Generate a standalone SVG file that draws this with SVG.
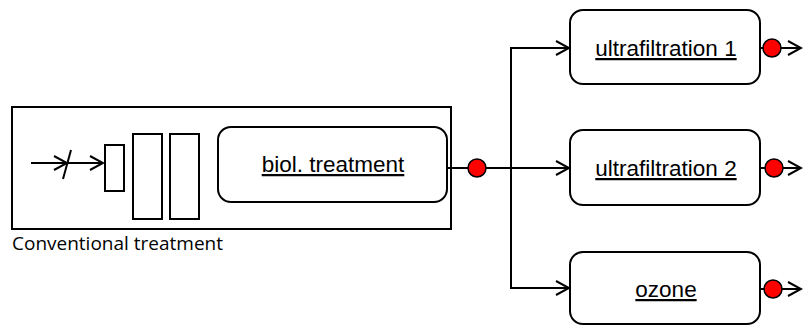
<svg xmlns="http://www.w3.org/2000/svg" width="803" height="325" viewBox="0 0 803 325">
<style>
.box{fill:#fff;stroke:#000;stroke-width:2}
.ln{fill:none;stroke:#000;stroke-width:2}
.lbl{font-family:"Liberation Sans",Arial,sans-serif;font-size:22.5px;text-anchor:middle;text-decoration:underline;fill:#000}
.cap{font-family:"Open Sans","Noto Sans",sans-serif;font-size:18.5px;fill:#000}
.dot{fill:#f00;stroke:#000;stroke-width:1.5}
</style>
<defs>
<marker id="open" markerWidth="16" markerHeight="16" refX="14" refY="8" orient="auto" markerUnits="userSpaceOnUse">
<path d="M1,1 L14,8 L1,15" fill="none" stroke="#000" stroke-width="2"/>
</marker>
</defs>
<g id="conventional">
<rect class="box" x="12" y="107" width="439" height="122"/>
<text class="cap" x="12" y="250" textLength="211" lengthAdjust="spacingAndGlyphs">Conventional treatment</text>
</g>
<g id="pretreatment">
<line class="ln" x1="31" y1="163" x2="67" y2="163" marker-end="url(#open)"/>
<line class="ln" x1="67" y1="163" x2="103" y2="163" marker-end="url(#open)"/>
<line class="ln" x1="63" y1="179" x2="71" y2="150"/>
<rect class="box" x="105" y="145" width="19" height="46"/>
<rect class="box" x="133" y="134" width="29" height="85"/>
<rect class="box" x="170" y="134" width="29" height="85"/>
</g>
<g id="biol">
<rect class="box" x="218" y="127" width="229" height="75" rx="13"/>
<text class="lbl" x="333" y="172">biol. treatment</text>
</g>
<g id="uf1">
<rect class="box" x="570" y="10" width="190" height="74" rx="13"/>
<text class="lbl" x="666" y="56">ultrafiltration 1</text>
</g>
<g id="uf2">
<rect class="box" x="570" y="130" width="190" height="75" rx="13"/>
<text class="lbl" x="666" y="176">ultrafiltration 2</text>
</g>
<g id="ozone">
<rect class="box" x="570" y="252" width="190" height="72" rx="13"/>
<text class="lbl" x="666" y="297">ozone</text>
</g>
<g id="connectors">
<line class="ln" x1="447" y1="168" x2="569" y2="168" marker-end="url(#open)"/>
<polyline class="ln" points="569,288 511,288 511,48 569,48" marker-end="url(#open)"/>
<line class="ln" x1="530" y1="288" x2="569" y2="288" marker-end="url(#open)"/>
<line class="ln" x1="760" y1="48" x2="801" y2="48" marker-end="url(#open)"/>
<line class="ln" x1="760" y1="168" x2="801" y2="168" marker-end="url(#open)"/>
<line class="ln" x1="760" y1="289" x2="801" y2="289" marker-end="url(#open)"/>
<circle class="dot" cx="477" cy="168" r="9"/>
<circle class="dot" cx="772" cy="48" r="9"/>
<circle class="dot" cx="774" cy="168" r="9"/>
<circle class="dot" cx="773" cy="289" r="9"/>
</g>
</svg>
